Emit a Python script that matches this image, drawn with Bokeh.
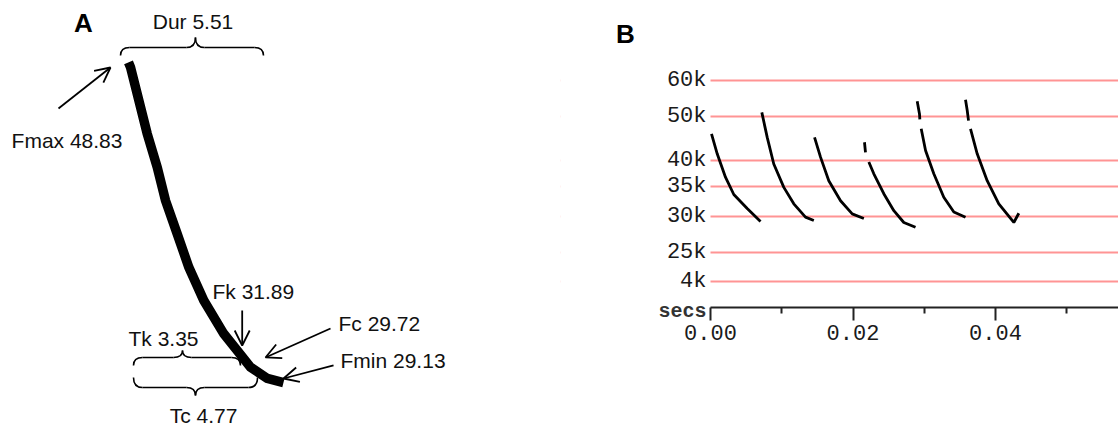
from bokeh.plotting import figure
from bokeh.layouts import row
from bokeh.models import Range1d, Arrow, OpenHead, Label, FixedTicker, BoxAnnotation
from bokeh.core.properties import value
from bokeh.embed import file_html
from bokeh.resources import INLINE

# ---------------- Panel A data (time in ms, frequency in kHz) ----------------
a_time = [0.0, 0.074, 0.381, 0.693, 1.063, 1.370, 1.804, 2.233, 2.789, 3.530, 4.026, 4.519, 5.137, 5.74]
a_freq = [48.83, 48.54, 46.53, 44.48, 42.44, 40.41, 38.38, 36.34, 34.31, 32.28, 31.26, 30.25, 29.56, 29.31]

a_labels = ["Dur 5.51", "Fmax 48.83", "Fk 31.89", "Fc 29.72", "Fmin 29.13", "Tk 3.35", "Tc 4.77"]
a_label_t = [2.389, -4.33, 3.111, 7.778, 7.852, 0.0, 2.778]
a_label_f = [51.325, 44.069, 34.862, 32.91, 30.654, 31.996, 27.301]
a_label_align = ["center", "left", "left", "left", "left", "left", "center"]

# arrows: (t_start, f_start, t_end, f_end)
a_arrows = [(-2.593, 46.02, -0.667, 48.52),
            (4.211, 33.70, 4.211, 31.57),
            (7.481, 32.605, 5.074, 30.84),
            (7.593, 30.35, 5.741, 29.557)]

# braces: (t0, t1, t_cusp, f_line, end_offset, cusp_offset)
a_braces = [(-0.296, 5.0, 2.48, 49.74, -0.49, 0.61),
            (0.185, 4.148, 2.0, 30.837, -0.488, 0.427),
            (0.185, 4.778, 2.481, 29.008, 0.61, -0.488)]

# ---------------- Panel B data (time in s, frequency in Hz) ----------------
nan = float("nan")
b_calls_t = [
    [0.00014, 0.00094, 0.0021, 0.00327, 0.00515, 0.00702],
    [0.0072, 0.00796, 0.00888, 0.01029, 0.01169, 0.01333, 0.0145],
    [0.0146, 0.01544, 0.0166, 0.01825, 0.01989, 0.02152],
    [0.02161, 0.02175, nan, 0.02222, 0.02292, 0.02432, 0.02573, 0.02713, 0.02877],
    [0.02901, 0.02933, 0.02938, nan, 0.02957, 0.03018, 0.03134, 0.03274, 0.03415, 0.03579],
    [0.03579, 0.03603, 0.03621, nan, 0.03649, 0.03743, 0.03883, 0.04046, 0.04257, 0.04327],
]
b_calls_f = [
    [45700, 41300, 36650, 33560, 31250, 29250],
    [51000, 44900, 39200, 34800, 32000, 29900, 29400],
    [44900, 40600, 36000, 32500, 30400, 29700],
    [43800, 41600, nan, 39600, 37300, 33700, 30900, 29100, 28400],
    [54000, 50600, 49200, nan, 46900, 42000, 37300, 33100, 30700, 29900],
    [54400, 51500, 48900, nan, 46900, 41300, 36000, 32000, 29100, 30500],
]
b_yticks = [60000, 50000, 40000, 35000, 30000, 25000, 21540]
b_ylabels = ["60k", "50k", "40k", "35k", "30k", "25k", "4k"]
b_xticks = [0.0, 0.02, 0.04, 0.06]
b_xlabels = ["0.00", "0.02", "0.04", "0.06"]
b_xminor = [0.01, 0.03, 0.05]
b_t_end = 0.05726      # right edge of the visible time axis (s)
b_f_floor = 18865      # frequency at which the time axis is drawn (Hz)

# ================= Panel A =================
pa = figure(width=560, height=427, output_backend="svg", toolbar_location=None,
            x_range=Range1d(-128 / 27, 432 / 27),
            y_range=Range1d(29.13 - 42 / 16.4, 29.13 + 385 / 16.4),
            min_border=0)
pa.axis.visible = False
pa.grid.visible = False
pa.outline_line_color = None
pa.background_fill_color = "white"

pa.line(a_time, a_freq, line_width=9.5, color="black", line_join="miter", line_cap="butt")

pa.text(a_label_t, a_label_f, text=a_labels, text_align=a_label_align,
        text_baseline="middle", text_font=value("Liberation Sans"),
        text_font_size="21px", text_color="#111111")

for (x0, y0, x1, y1) in a_arrows:
    pa.add_layout(Arrow(x_start=x0, y_start=y0, x_end=x1, y_end=y1,
                        line_width=1.8, line_color="black",
                        end=OpenHead(size=15, line_width=1.8, line_color="black")))

rx = 9 / 27
for (t0, t1, tm, fb, e, c) in a_braces:
    qx0 = [t0, tm - rx, tm + rx, t1 - rx]
    qy0 = [fb + e, fb, fb, fb]
    qcx = [t0, tm, tm, t1]
    qcy = [fb, fb, fb, fb]
    qx1 = [t0 + rx, tm, tm, t1]
    qy1 = [fb, fb + c, fb + c, fb + e]
    pa.quadratic(x0=qx0, y0=qy0, x1=qx1, y1=qy1, cx=qcx, cy=qcy,
                 line_width=1.6, line_color="black")
    pa.segment(x0=[t0 + rx, tm + rx], y0=[fb, fb], x1=[tm - rx, t1 - rx], y1=[fb, fb],
               line_width=1.6, line_color="black")

pa.add_layout(Label(x=-1.667, y=51.234, text="A", text_align="center",
                    text_baseline="middle", text_font="Liberation Sans",
                    text_font_style="bold", text_font_size="26px", text_color="black"))

# ================= Panel B =================
pb = figure(width=558, height=427, output_backend="svg", toolbar_location=None,
            y_axis_type="log",
            x_range=Range1d(-0.021053, b_t_end), y_range=Range1d(10235, 90207),
            min_border=0)
pb.outline_line_color = None
pb.background_fill_color = "white"
pb.xgrid.visible = False

yax = pb.yaxis[0]
xax = pb.xaxis[0]
yax.fixed_location = 0.0
xax.fixed_location = b_f_floor

yt = FixedTicker(ticks=b_yticks)
yax.ticker = yt
pb.ygrid[0].ticker = yt
pb.ygrid.grid_line_color = "#ff9494"
pb.ygrid.grid_line_width = 2
yax.axis_line_color = None
yax.major_tick_line_color = None
yax.minor_tick_line_color = None
yax.major_tick_out = 0
yax.major_tick_in = 0
yax.major_label_standoff = 4
yax.major_label_overrides = {v: s for v, s in zip(b_yticks, b_ylabels)}
yax.major_label_text_font = "Liberation Mono"
yax.major_label_text_font_size = "22px"
yax.major_label_text_color = "#1a1a1a"

xt = FixedTicker(ticks=b_xticks, minor_ticks=b_xminor)
xax.ticker = xt
xax.bounds = (0, b_t_end)
xax.major_label_overrides = {v: s for v, s in zip(b_xticks, b_xlabels)}
xax.axis_line_width = 2
xax.axis_line_color = "#222222"
xax.major_tick_line_width = 2
xax.major_tick_line_color = "#222222"
xax.minor_tick_line_width = 2
xax.minor_tick_line_color = "#222222"
xax.major_tick_out = 13
xax.major_tick_in = 0
xax.minor_tick_out = 6
xax.minor_tick_in = 0
xax.major_label_standoff = 4
xax.major_label_text_font = "Liberation Mono"
xax.major_label_text_font_size = "22px"
xax.major_label_text_color = "#1a1a1a"

# hide the grid lines left of time zero (label area)
pb.add_layout(BoxAnnotation(left=-1.0, right=0.0, fill_color="white", fill_alpha=1.0,
                            line_color=None, level="underlay"))

for ts, fs in zip(b_calls_t, b_calls_f):
    pb.line(ts, fs, line_width=2.8, color="black")

pb.add_layout(Label(x=-0.01193, y=75855, text="B", text_align="center",
                    text_baseline="middle", text_font="Liberation Sans",
                    text_font_style="bold", text_font_size="26px", text_color="black"))
pb.add_layout(Label(x=-0.00056, y=18486, text="secs", text_align="right",
                    text_baseline="middle", text_font="Liberation Mono",
                    text_font_style="bold", text_font_size="20px", text_color="#333333"))

layout = row(pa, pb)
open("out.html", "w").write(file_html(layout, INLINE))
